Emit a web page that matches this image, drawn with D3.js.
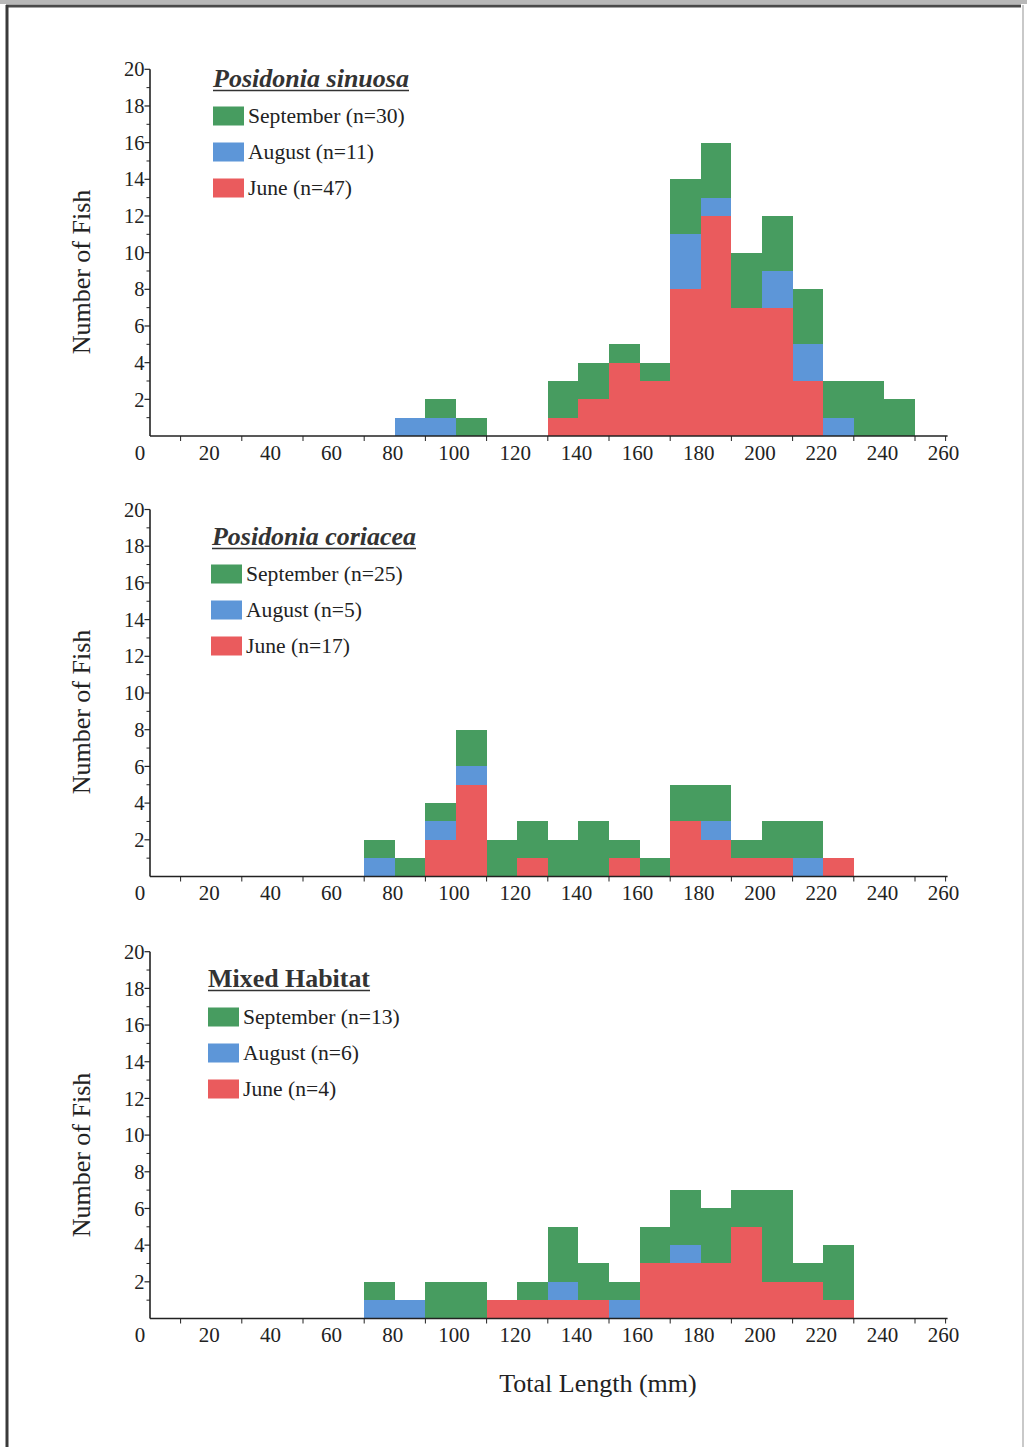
<!DOCTYPE html>
<html><head><meta charset="utf-8">
<script src="https://cdn.jsdelivr.net/npm/d3@7/dist/d3.min.js"></script>
<style>
html,body{margin:0;padding:0;background:#fff;}
svg{display:block;font-family:"Liberation Serif","Times New Roman",serif;}
</style></head>
<body>
<svg id="chart" width="1027" height="1447"></svg>
<script>
// ---- data ----
const binStarts = [70,80,90,100,110,120,130,140,150,160,170,180,190,200,210,220,230,240,250];
const binWidth = 10;
const seriesNames = ["June","August","September"];
const xTickLabels = [0,20,40,60,80,100,120,140,160,180,200,220,240,260];
const yTickLabels = [2,4,6,8,10,12,14,16,18,20];

const sinuosaJune = [0,0,0,0,0,0,1,2,4,3,8,12,7,7,3,0,0,0,0];
const sinuosaAug  = [0,1,1,0,0,0,0,0,0,0,3,1,0,2,2,1,0,0,0];
const sinuosaSep  = [0,0,1,1,0,0,2,2,1,1,3,3,3,3,3,2,3,2,0];

const coriaceaJune = [0,0,2,5,0,1,0,0,1,0,3,2,1,1,0,1,0,0,0];
const coriaceaAug  = [1,0,1,1,0,0,0,0,0,0,0,1,0,0,1,0,0,0,0];
const coriaceaSep  = [1,1,1,2,2,2,2,3,1,1,2,2,1,2,2,0,0,0,0];

const mixedJune = [0,0,0,0,1,1,1,1,0,3,3,3,5,2,2,1,0,0,0];
const mixedAug  = [1,1,0,0,0,0,1,0,1,0,1,0,0,0,0,0,0,0,0];
const mixedSep  = [1,0,2,2,0,1,3,2,1,2,3,3,2,5,1,3,0,0,0];

const panelTitles = ["Posidonia sinuosa","Posidonia coriacea","Mixed Habitat"];
const legendSinuosa  = ["September (n=30)","August (n=11)","June (n=47)"];
const legendCoriacea = ["September (n=25)","August (n=5)","June (n=17)"];
const legendMixed    = ["September (n=13)","August (n=6)","June (n=4)"];

// ---- styles ----
const colors = {June:"#ea5b5d", August:"#5d96d8", September:"#479c60"};
const legendOrder = ["September","August","June"];

const panels = [
  {title:panelTitles[0], italic:true, legend:legendSinuosa, june:sinuosaJune, aug:sinuosaAug, sep:sinuosaSep,
   y0:436, y20:69.3, titleX:213, titleY:87, titleW:196, legX:213, legRows:[116,152,188], yTitleY:272},
  {title:panelTitles[1], italic:true, legend:legendCoriacea, june:coriaceaJune, aug:coriaceaAug, sep:coriaceaSep,
   y0:876.5, y20:509.5, titleX:212, titleY:545, titleW:204, legX:211, legRows:[574,610,646], yTitleY:712},
  {title:panelTitles[2], italic:false, legend:legendMixed, june:mixedJune, aug:mixedAug, sep:mixedSep,
   y0:1318.5, y20:951.7, titleX:208, titleY:987, titleW:162, legX:208, legRows:[1017,1053,1089], yTitleY:1155}
];

const svg = d3.select("#chart");
const ink = "#222";

// page frame (scan border)
svg.append("rect").attr("x",0).attr("y",0).attr("width",1027).attr("height",4).attr("fill","#b8b8b8");
svg.append("line").attr("x1",6).attr("x2",1021).attr("y1",6).attr("y2",6).attr("stroke","#4a4a4a").attr("stroke-width",3);
svg.append("line").attr("x1",7).attr("x2",7).attr("y1",5).attr("y2",1447).attr("stroke","#3a3a3a").attr("stroke-width",3);
svg.append("line").attr("x1",1023).attr("x2",1023).attr("y1",5).attr("y2",1447).attr("stroke","#c9c9c9").attr("stroke-width",2);

const x = d3.scaleLinear().domain([0,260]).range([150,945.6]);

panels.forEach(p => {
  const g = svg.append("g");
  const y = d3.scaleLinear().domain([0,20]).range([p.y0,p.y20]);

  const table = binStarts.map((b,i)=>({bin:b, June:p.june[i], August:p.aug[i], September:p.sep[i]}));
  const stacked = d3.stack().keys(seriesNames)(table);

  stacked.forEach(layer => {
    g.append("g").attr("fill", colors[layer.key]).attr("shape-rendering","crispEdges")
      .selectAll("rect").data(layer.filter(d=>d[1]>d[0])).join("rect")
      .attr("x", d=>Math.round(x(d.data.bin)))
      .attr("width", d=>Math.round(x(d.data.bin+binWidth))-Math.round(x(d.data.bin)))
      .attr("y", d=>Math.round(y(d[1])))
      .attr("height", d=>Math.round(y(d[0]))-Math.round(y(d[1])));
  });

  // y axis
  const yAxis = g.append("g").attr("transform",`translate(${x(0)},0)`);
  yAxis.append("line").attr("x1",0).attr("x2",0).attr("y1",y(0)).attr("y2",y(20)).attr("stroke",ink).attr("stroke-width",1.6);
  const minorY = d3.range(1,20,2);
  yAxis.selectAll(".ymin").data(minorY).join("line")
    .attr("x1",-3.5).attr("x2",0).attr("y1",d=>y(d)).attr("y2",d=>y(d)).attr("stroke",ink).attr("stroke-width",1);
  yAxis.selectAll(".ymaj").data(yTickLabels).join("line")
    .attr("x1",-5.5).attr("x2",0).attr("y1",d=>y(d)).attr("y2",d=>y(d)).attr("stroke",ink).attr("stroke-width",1.2);
  yAxis.selectAll("text").data(yTickLabels).join("text")
    .attr("x",-5.5).attr("y",d=>y(d)).attr("dy","0.35em").attr("text-anchor","end")
    .attr("font-size",20.5).attr("fill",ink).text(d=>d);

  // x axis
  const xAxis = g.append("g").attr("transform",`translate(0,${y(0)})`);
  xAxis.append("line").attr("x1",x(0)).attr("x2",x(260)+2).attr("y1",0).attr("y2",0).attr("stroke",ink).attr("stroke-width",1.6);
  const minorX = d3.range(10,260,20).concat([260]);
  xAxis.selectAll(".xt").data(minorX).join("line")
    .attr("x1",d=>x(d)).attr("x2",d=>x(d)).attr("y1",0).attr("y2",5).attr("stroke",ink).attr("stroke-width",1);
  xAxis.selectAll("text").data(xTickLabels).join("text")
    .attr("x",d=> d===0 ? x(0)-10 : x(d)-2).attr("y",23.5).attr("text-anchor","middle")
    .attr("font-size",21).attr("fill",ink).text(d=>d);

  // y title
  g.append("text").attr("transform",`translate(90,${p.yTitleY}) rotate(-90)`)
    .attr("text-anchor","middle").attr("font-size",26).attr("fill",ink).text("Number of Fish");

  // legend title
  g.append("text").attr("x",p.titleX).attr("y",p.titleY)
    .attr("font-size",25).attr("font-weight","bold").attr("font-style",p.italic?"italic":"normal")
    .attr("fill","#333").attr("textLength",p.titleW).attr("lengthAdjust","spacingAndGlyphs").text(p.title);
  g.append("line").attr("x1",p.titleX).attr("x2",p.titleX+p.titleW).attr("y1",p.titleY+3.5).attr("y2",p.titleY+3.5)
    .attr("stroke","#333").attr("stroke-width",1.5);

  // legend rows
  legendOrder.forEach((k,i)=>{
    const cy = p.legRows[i];
    g.append("rect").attr("x",p.legX).attr("y",cy-9.5).attr("width",31).attr("height",19).attr("fill",colors[k]);
    g.append("text").attr("x",p.legX+35).attr("y",cy).attr("dy","0.33em")
      .attr("font-size",21.6).attr("fill",ink).text(p.legend[i]);
  });
});

// x title
svg.append("text").attr("x",598).attr("y",1392).attr("text-anchor","middle")
  .attr("font-size",26).attr("fill",ink).text("Total Length (mm)");
</script>
</body></html>
